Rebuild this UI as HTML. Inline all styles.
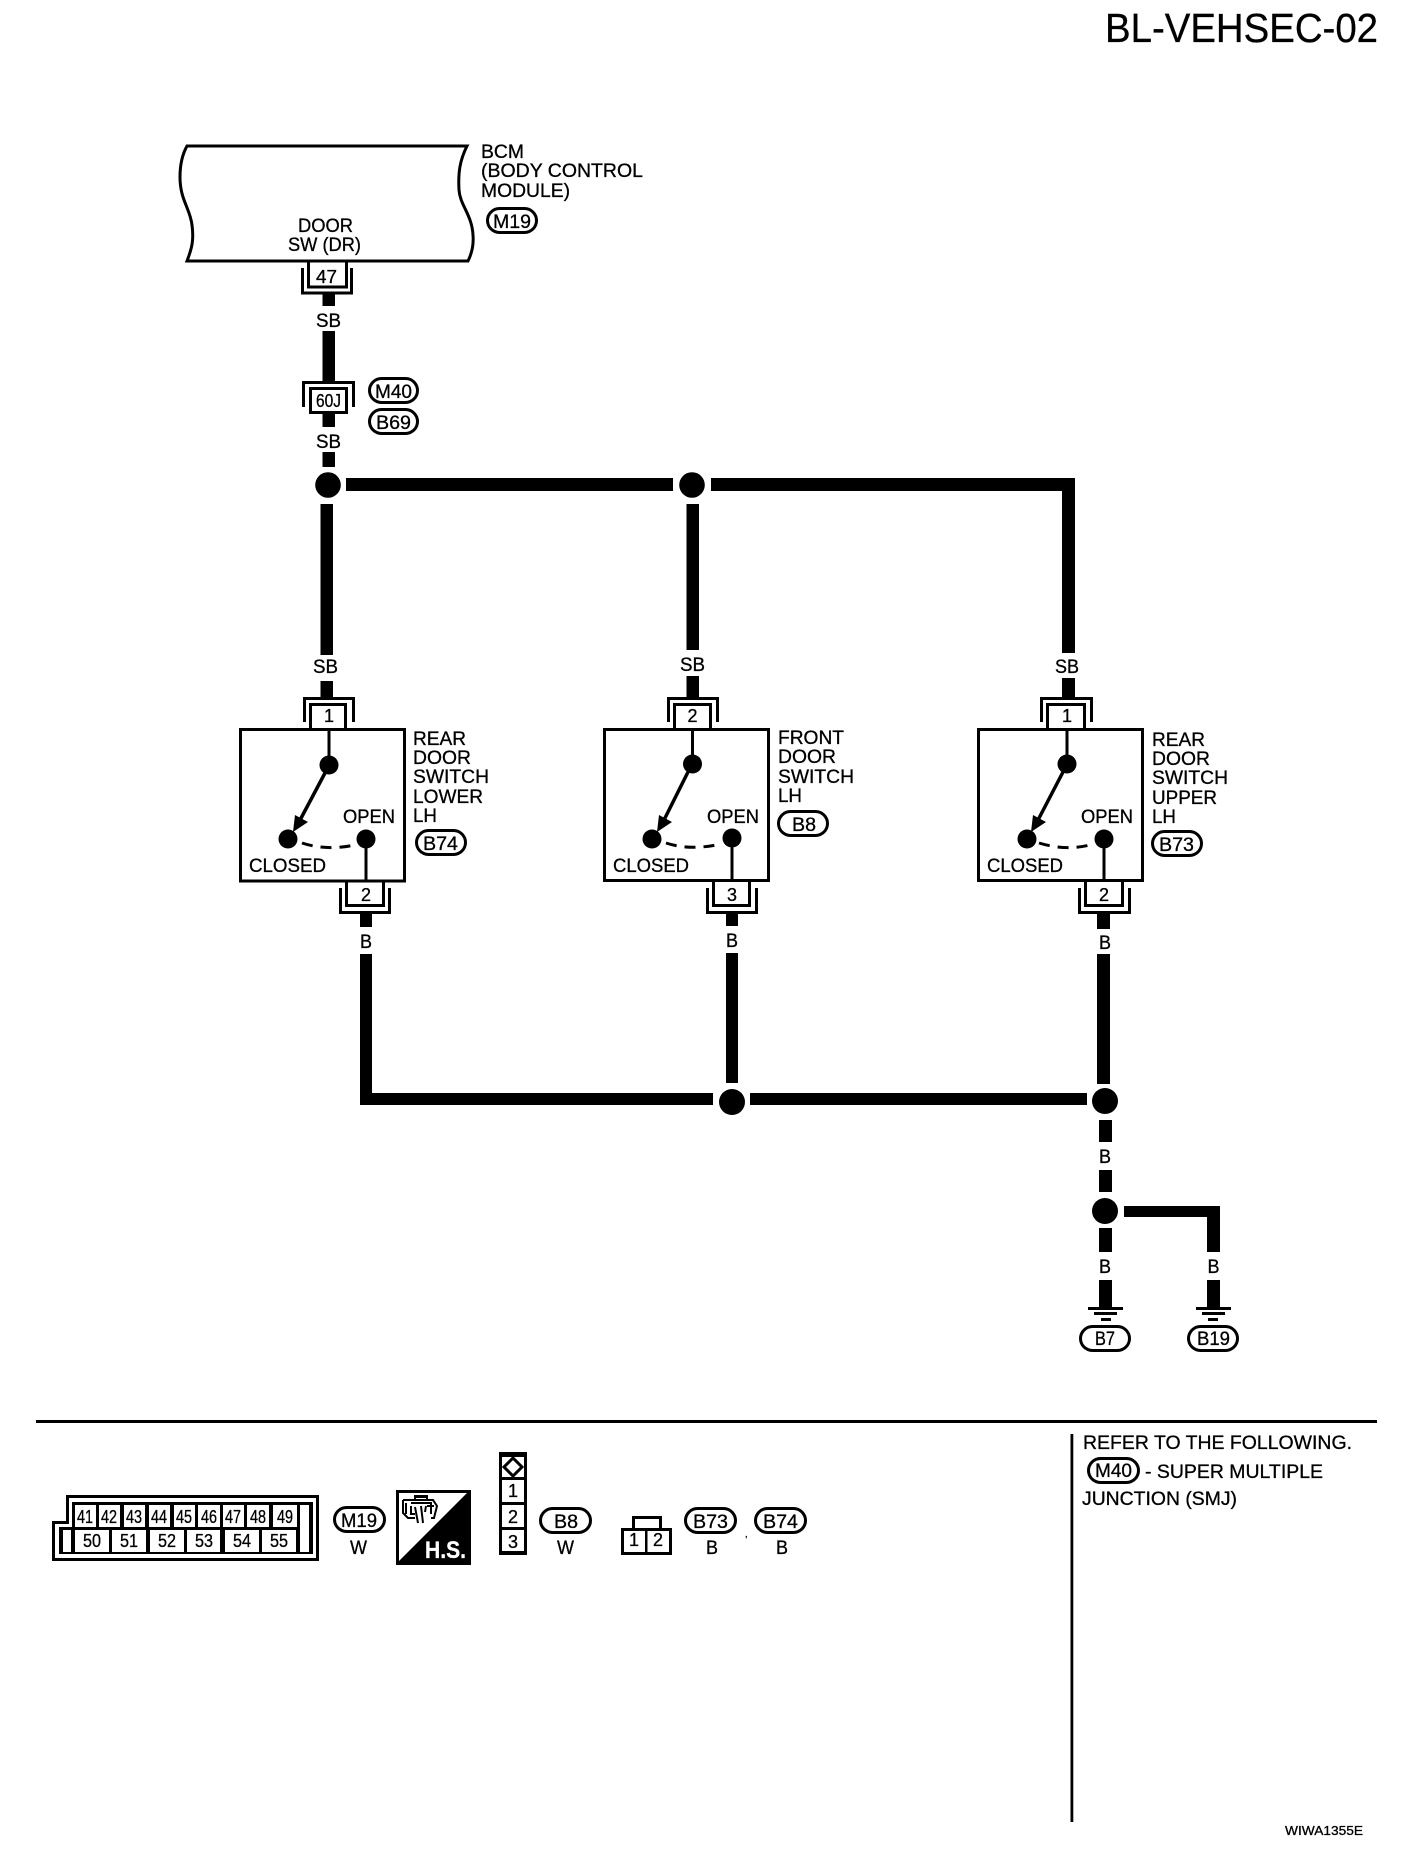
<!DOCTYPE html>
<html><head><meta charset="utf-8"><style>
html,body{margin:0;padding:0;background:#fff}
svg{display:block}
text{font-family:"Liberation Sans",sans-serif;font-size:19.5px;fill:#000;stroke:#000;stroke-width:.3}
.w{fill:#000;stroke:none}
.p{fill:#fff;stroke:#000;stroke-width:3}
.l{fill:none;stroke:#000;stroke-width:3}
.c{fill:#000}
text.n{font-size:18.5px}
</style></head><body>
<svg width="1408" height="1852" viewBox="0 0 1408 1852" xmlns="http://www.w3.org/2000/svg">
<rect width="1408" height="1852" fill="#fff"/>
<text x="1105" y="42" style="font-size:40.5px" textLength="273" lengthAdjust="spacingAndGlyphs">BL-VEHSEC-02</text>

<!-- BCM -->
<path class="l" d="M187 146 L467 146 C460 160 458 172 459 190 C460 205 472 215 473 235 C474 247 471 255 468 261 L187 261 C192 248 194 240 192 225 C190 208 180 200 180 177 C180 165 182 155 187 146 Z"/>
<text x="481" y="158" textLength="43" lengthAdjust="spacingAndGlyphs">BCM</text>
<text x="481" y="177" textLength="162" lengthAdjust="spacingAndGlyphs">(BODY CONTROL</text>
<text x="481" y="197" textLength="89" lengthAdjust="spacingAndGlyphs">MODULE)</text>
<rect class="p" x="487.500" y="208.500" width="49" height="24" rx="12"/>
<text x="493" y="228" textLength="38" lengthAdjust="spacingAndGlyphs">M19</text>
<text x="298" y="232" textLength="55" lengthAdjust="spacingAndGlyphs">DOOR</text>
<text x="288" y="251" textLength="73" lengthAdjust="spacingAndGlyphs">SW (DR)</text>
<!-- conn 47 -->
<path class="l" d="M308.500 261V287H346.500V261"/>
<path class="l" d="M302.500 268V293H351.500V268"/>
<text class="n" x="316" y="283" textLength="21" lengthAdjust="spacingAndGlyphs">47</text>
<rect class="w" x="322.500" y="294" width="12.500" height="12"/>
<text x="316" y="327" textLength="25" lengthAdjust="spacingAndGlyphs">SB</text>
<rect class="w" x="322.500" y="331" width="12.500" height="50"/>
<!-- 60J -->
<path class="l" d="M303.500 407V382.500H353.500V407"/>
<rect class="p" x="310.500" y="388.500" width="36" height="24"/>
<text class="n" x="316" y="407" textLength="25" lengthAdjust="spacingAndGlyphs">60J</text>
<rect class="w" x="322.500" y="414" width="12.500" height="13"/>
<rect class="p" x="369.500" y="378.500" width="48" height="24" rx="12"/>
<text x="375" y="398" textLength="37" lengthAdjust="spacingAndGlyphs">M40</text>
<rect class="p" x="369.500" y="409.500" width="48" height="24" rx="12"/>
<text x="376" y="429" textLength="35" lengthAdjust="spacingAndGlyphs">B69</text>
<text x="316" y="448" textLength="25" lengthAdjust="spacingAndGlyphs">SB</text>
<rect class="w" x="322.500" y="452" width="12.500" height="15"/>

<!-- top bus -->
<circle class="c" cx="328" cy="485" r="12.800"/>
<circle class="c" cx="692" cy="485" r="12.800"/>
<rect class="w" x="346" y="478" width="327" height="13"/>
<path class="w" d="M711 478H1075V653H1062V491H711Z"/>
<rect class="w" x="320.500" y="504" width="12.500" height="151"/>
<rect class="w" x="686.500" y="504" width="12.500" height="146"/>

<!-- switch 1 -->
<text x="313" y="673" textLength="25" lengthAdjust="spacingAndGlyphs">SB</text>
<rect class="w" x="320.500" y="681" width="12.500" height="16"/>
<path class="l" d="M304.500 722V698.500H353.500V722"/>
<path class="l" d="M310.500 728V704.500H345.500V728"/>
<text class="n" x="324" y="722" textLength="10" lengthAdjust="spacingAndGlyphs">1</text>
<rect class="l" x="240.500" y="729.500" width="164" height="151.500"/>
<path class="l" d="M329 729V765"/>
<circle class="c" cx="329" cy="765" r="9.500"/>
<path class="l" d="M325 773L299 822" style="stroke-width:3.500"/>
<polygon class="c" points="293,832 295,815 308,822"/>
<circle class="c" cx="288" cy="839" r="9.500"/>
<circle class="c" cx="366" cy="839" r="9.500"/>
<path class="l" d="M302 843Q326 851 355 845" stroke-dasharray="11 8"/>
<path class="l" d="M366 839V882"/>
<text x="343" y="823" textLength="52" lengthAdjust="spacingAndGlyphs">OPEN</text>
<text x="249" y="872" textLength="77" lengthAdjust="spacingAndGlyphs">CLOSED</text>
<text x="413" y="745" textLength="53" lengthAdjust="spacingAndGlyphs">REAR</text>
<text x="413" y="764" textLength="58" lengthAdjust="spacingAndGlyphs">DOOR</text>
<text x="413" y="783" textLength="76" lengthAdjust="spacingAndGlyphs">SWITCH</text>
<text x="413" y="803" textLength="70" lengthAdjust="spacingAndGlyphs">LOWER</text>
<text x="413" y="822" textLength="24" lengthAdjust="spacingAndGlyphs">LH</text>
<rect class="p" x="416.500" y="830.500" width="49" height="24" rx="12"/>
<text x="423" y="850" textLength="35" lengthAdjust="spacingAndGlyphs">B74</text>
<path class="l" d="M346.500 882V905.500H383.500V882"/>
<path class="l" d="M340.500 888V912.500H389.500V888"/>
<text class="n" x="361" y="901" textLength="10" lengthAdjust="spacingAndGlyphs">2</text>
<rect class="w" x="360" y="914" width="12" height="13"/>
<text x="360" y="948" textLength="12" lengthAdjust="spacingAndGlyphs">B</text>

<!-- switch 2 -->
<text x="680" y="671" textLength="25" lengthAdjust="spacingAndGlyphs">SB</text>
<rect class="w" x="686.500" y="676" width="12.500" height="21"/>
<path class="l" d="M668.500 722V698.500H717.500V722"/>
<path class="l" d="M674.500 728V704.500H710.500V728"/>
<text class="n" x="687.500" y="722" textLength="10" lengthAdjust="spacingAndGlyphs">2</text>
<rect class="l" x="604.500" y="729.500" width="164" height="151"/>
<path class="l" d="M692.500 729V764"/>
<circle class="c" cx="692.500" cy="764" r="9.500"/>
<path class="l" d="M688 772L663 822" style="stroke-width:3.500"/>
<polygon class="c" points="657,832 659,815 672,822"/>
<circle class="c" cx="652" cy="839" r="9.500"/>
<circle class="c" cx="732" cy="838" r="9.500"/>
<path class="l" d="M666 843Q690 851 721 844" stroke-dasharray="11 8"/>
<path class="l" d="M732 838V882"/>
<text x="707" y="823" textLength="52" lengthAdjust="spacingAndGlyphs">OPEN</text>
<text x="613" y="872" textLength="76" lengthAdjust="spacingAndGlyphs">CLOSED</text>
<text x="778" y="744" textLength="66" lengthAdjust="spacingAndGlyphs">FRONT</text>
<text x="778" y="763" textLength="58" lengthAdjust="spacingAndGlyphs">DOOR</text>
<text x="778" y="783" textLength="76" lengthAdjust="spacingAndGlyphs">SWITCH</text>
<text x="778" y="802" textLength="24" lengthAdjust="spacingAndGlyphs">LH</text>
<rect class="p" x="778.500" y="811.500" width="49" height="24" rx="12"/>
<text x="792" y="831" textLength="24" lengthAdjust="spacingAndGlyphs">B8</text>
<path class="l" d="M713.500 882V905.500H749.500V882"/>
<path class="l" d="M707.500 888V912.500H756.500V888"/>
<text class="n" x="727" y="901" textLength="10" lengthAdjust="spacingAndGlyphs">3</text>
<rect class="w" x="726" y="914" width="12" height="12"/>
<text x="726" y="947" textLength="12" lengthAdjust="spacingAndGlyphs">B</text>

<!-- switch 3 -->
<text x="1055" y="673" textLength="24" lengthAdjust="spacingAndGlyphs">SB</text>
<rect class="w" x="1062" y="678" width="13" height="19"/>
<path class="l" d="M1041.500 722V698.500H1091.500V722"/>
<path class="l" d="M1047.500 728V704.500H1084.500V728"/>
<text class="n" x="1062" y="722" textLength="10" lengthAdjust="spacingAndGlyphs">1</text>
<rect class="l" x="978.500" y="729.500" width="164" height="151"/>
<path class="l" d="M1067 729V764"/>
<circle class="c" cx="1067" cy="764" r="9.500"/>
<path class="l" d="M1063 772L1037 822" style="stroke-width:3.500"/>
<polygon class="c" points="1031,832 1033,815 1046,822"/>
<circle class="c" cx="1027" cy="839" r="9.500"/>
<circle class="c" cx="1104" cy="839" r="9.500"/>
<path class="l" d="M1039 843Q1065 851 1090 845" stroke-dasharray="11 8"/>
<path class="l" d="M1104 839V882"/>
<text x="1081" y="823" textLength="52" lengthAdjust="spacingAndGlyphs">OPEN</text>
<text x="987" y="872" textLength="76" lengthAdjust="spacingAndGlyphs">CLOSED</text>
<text x="1152" y="746" textLength="53" lengthAdjust="spacingAndGlyphs">REAR</text>
<text x="1152" y="765" textLength="58" lengthAdjust="spacingAndGlyphs">DOOR</text>
<text x="1152" y="784" textLength="76" lengthAdjust="spacingAndGlyphs">SWITCH</text>
<text x="1152" y="804" textLength="65" lengthAdjust="spacingAndGlyphs">UPPER</text>
<text x="1152" y="823" textLength="24" lengthAdjust="spacingAndGlyphs">LH</text>
<rect class="p" x="1152.500" y="831.500" width="49" height="24" rx="12"/>
<text x="1159" y="851" textLength="35" lengthAdjust="spacingAndGlyphs">B73</text>
<path class="l" d="M1085.500 882V905.500H1122.500V882"/>
<path class="l" d="M1079.500 888V912.500H1129.500V888"/>
<text class="n" x="1099" y="901" textLength="10" lengthAdjust="spacingAndGlyphs">2</text>
<rect class="w" x="1097" y="914" width="13" height="15"/>
<text x="1099" y="949" textLength="12" lengthAdjust="spacingAndGlyphs">B</text>

<!-- lower bus -->
<path class="w" d="M360 954H372V1093H713V1105H360Z"/>
<rect class="w" x="726" y="953" width="12" height="130"/>
<circle class="c" cx="732" cy="1102" r="13"/>
<rect class="w" x="750" y="1093" width="337" height="12"/>
<rect class="w" x="1097" y="954" width="13" height="130"/>
<circle class="c" cx="1105" cy="1101" r="13"/>
<rect class="w" x="1099" y="1120" width="13" height="22"/>
<text x="1099" y="1163" textLength="12" lengthAdjust="spacingAndGlyphs">B</text>
<rect class="w" x="1099" y="1170" width="13" height="22"/>
<circle class="c" cx="1105" cy="1211" r="13"/>
<rect class="w" x="1099" y="1228" width="13" height="24"/>
<text x="1099" y="1273" textLength="12" lengthAdjust="spacingAndGlyphs">B</text>
<rect class="w" x="1099" y="1280" width="13" height="27"/>
<rect class="w" x="1088" y="1307" width="35" height="3"/>
<rect class="w" x="1094" y="1312" width="23" height="3"/>
<rect class="w" x="1101" y="1318" width="10" height="3"/>
<path class="w" d="M1124 1206H1220V1252H1207V1217H1124Z"/>
<text x="1207.500" y="1273" textLength="12" lengthAdjust="spacingAndGlyphs">B</text>
<rect class="w" x="1207" y="1280" width="13" height="27"/>
<rect class="w" x="1196" y="1307" width="35" height="3"/>
<rect class="w" x="1202" y="1312" width="23" height="3"/>
<rect class="w" x="1208" y="1318" width="10" height="3"/>
<rect class="p" x="1080.500" y="1326.500" width="49" height="24" rx="12"/>
<text x="1095" y="1345" textLength="20" lengthAdjust="spacingAndGlyphs">B7</text>
<rect class="p" x="1188.500" y="1326.500" width="49" height="24" rx="12"/>
<text x="1197" y="1345" textLength="33" lengthAdjust="spacingAndGlyphs">B19</text>

<!-- separators -->
<rect class="w" x="36" y="1420" width="1341" height="3"/>
<rect class="w" x="1070.500" y="1434" width="2.800" height="388"/>

<!-- M19 connector -->
<path class="l" d="M67.500 1496.500H317.500V1559.500H53.500V1522.500H67.500Z"/>
<path class="w" d="M72 1502H313V1554H59V1527H72Z"/>
<g fill="#fff">
<rect x="75" y="1505" width="21" height="22"/><rect x="99" y="1505" width="21" height="22"/><rect x="124" y="1505" width="21" height="22"/><rect x="149" y="1505" width="21" height="22"/><rect x="174" y="1505" width="21" height="22"/><rect x="198" y="1505" width="22" height="22"/><rect x="223" y="1505" width="21" height="22"/><rect x="247" y="1505" width="22" height="22"/><rect x="273" y="1505" width="24" height="22"/>
<rect x="75" y="1530" width="34" height="22"/><rect x="112" y="1530" width="34" height="22"/><rect x="150" y="1530" width="34" height="22"/><rect x="187" y="1530" width="33" height="22"/><rect x="225" y="1530" width="34" height="22"/><rect x="262" y="1530" width="34" height="22"/>
<rect x="63" y="1530" width="8" height="22"/><rect x="300" y="1505" width="9" height="47"/>
</g>
<text class="n" x="77" y="1523" textLength="16" lengthAdjust="spacingAndGlyphs">41</text>
<text class="n" x="101" y="1523" textLength="16" lengthAdjust="spacingAndGlyphs">42</text>
<text class="n" x="126" y="1523" textLength="16" lengthAdjust="spacingAndGlyphs">43</text>
<text class="n" x="151" y="1523" textLength="16" lengthAdjust="spacingAndGlyphs">44</text>
<text class="n" x="176" y="1523" textLength="16" lengthAdjust="spacingAndGlyphs">45</text>
<text class="n" x="201" y="1523" textLength="16" lengthAdjust="spacingAndGlyphs">46</text>
<text class="n" x="225" y="1523" textLength="16" lengthAdjust="spacingAndGlyphs">47</text>
<text class="n" x="250" y="1523" textLength="16" lengthAdjust="spacingAndGlyphs">48</text>
<text class="n" x="277" y="1523" textLength="16" lengthAdjust="spacingAndGlyphs">49</text>
<text class="n" x="83" y="1547" textLength="18" lengthAdjust="spacingAndGlyphs">50</text>
<text class="n" x="120" y="1547" textLength="18" lengthAdjust="spacingAndGlyphs">51</text>
<text class="n" x="158" y="1547" textLength="18" lengthAdjust="spacingAndGlyphs">52</text>
<text class="n" x="195" y="1547" textLength="18" lengthAdjust="spacingAndGlyphs">53</text>
<text class="n" x="233" y="1547" textLength="18" lengthAdjust="spacingAndGlyphs">54</text>
<text class="n" x="270" y="1547" textLength="18" lengthAdjust="spacingAndGlyphs">55</text>
<rect class="p" x="334.500" y="1507.500" width="50" height="24" rx="12"/>
<text x="341" y="1527" textLength="36" lengthAdjust="spacingAndGlyphs">M19</text>
<text x="350" y="1554" textLength="17" lengthAdjust="spacingAndGlyphs">W</text>

<!-- H.S. -->
<rect class="w" x="396" y="1490" width="75" height="75"/>
<polygon points="399,1493 467,1493 399,1561" fill="#fff"/>
<text x="425" y="1558" style="font-size:24.500px;font-weight:bold;fill:#fff;stroke:#fff" textLength="41" lengthAdjust="spacingAndGlyphs">H.S.</text>
<g fill="none" stroke="#000" stroke-width="2">
<path d="M403 1500H433L437 1506L434 1518H431"/>
<path d="M403 1500V1513L408 1518H415"/>
<path d="M406 1503V1514M411 1503H431V1514"/>
<path d="M411 1506V1514H415M415 1507L418 1523M421 1506L423 1523M426 1506L425 1512M427 1506L434 1506"/>
<path d="M415 1500V1496H427V1500M414 1497H428"/>
</g>

<!-- 3-pin stack -->
<rect class="w" x="499" y="1452" width="28" height="103"/>
<g fill="#fff">
<rect x="502" y="1457" width="22" height="20"/>
<rect x="502" y="1480" width="22" height="22"/>
<rect x="502" y="1505" width="22" height="22"/>
<rect x="502" y="1530" width="22" height="21"/>
</g>
<polygon points="513,1458 522,1467 513,1476 504,1467" fill="#fff" stroke="#000" stroke-width="3"/>
<text class="n" x="508" y="1497" textLength="10" lengthAdjust="spacingAndGlyphs">1</text>
<text class="n" x="508" y="1523" textLength="10" lengthAdjust="spacingAndGlyphs">2</text>
<text class="n" x="508" y="1548" textLength="10" lengthAdjust="spacingAndGlyphs">3</text>
<rect class="p" x="540.500" y="1508.500" width="50" height="24" rx="12"/>
<text x="554" y="1528" textLength="24" lengthAdjust="spacingAndGlyphs">B8</text>
<text x="557" y="1554" textLength="17" lengthAdjust="spacingAndGlyphs">W</text>

<!-- 2-pin -->
<path class="l" d="M633.500 1528V1517.500H660.500V1528"/>
<rect class="l" x="622.500" y="1529.500" width="48" height="24"/>
<rect class="w" x="645" y="1529" width="2.500" height="25"/>
<text class="n" x="629" y="1546" textLength="10" lengthAdjust="spacingAndGlyphs">1</text>
<text class="n" x="653" y="1546" textLength="10" lengthAdjust="spacingAndGlyphs">2</text>
<rect class="p" x="685.500" y="1508.500" width="50" height="24" rx="12"/>
<text x="693" y="1528" textLength="35" lengthAdjust="spacingAndGlyphs">B73</text>
<text x="706" y="1554" textLength="12" lengthAdjust="spacingAndGlyphs">B</text>
<text x="745" y="1537" style="font-size:9px">,</text>
<rect class="p" x="755.500" y="1508.500" width="50" height="24" rx="12"/>
<text x="763" y="1528" textLength="35" lengthAdjust="spacingAndGlyphs">B74</text>
<text x="776" y="1554" textLength="12" lengthAdjust="spacingAndGlyphs">B</text>

<!-- notes -->
<text x="1083" y="1449" textLength="269" lengthAdjust="spacingAndGlyphs">REFER TO THE FOLLOWING.</text>
<rect class="p" x="1088.500" y="1458.500" width="50" height="24" rx="12"/>
<text x="1095" y="1477" textLength="37" lengthAdjust="spacingAndGlyphs">M40</text>
<text x="1145" y="1478" textLength="178" lengthAdjust="spacingAndGlyphs">- SUPER MULTIPLE</text>
<text x="1082" y="1505" textLength="155" lengthAdjust="spacingAndGlyphs">JUNCTION (SMJ)</text>
<text x="1285" y="1835" style="font-size:13px" textLength="78" lengthAdjust="spacingAndGlyphs">WIWA1355E</text>
</svg>
</body></html>
